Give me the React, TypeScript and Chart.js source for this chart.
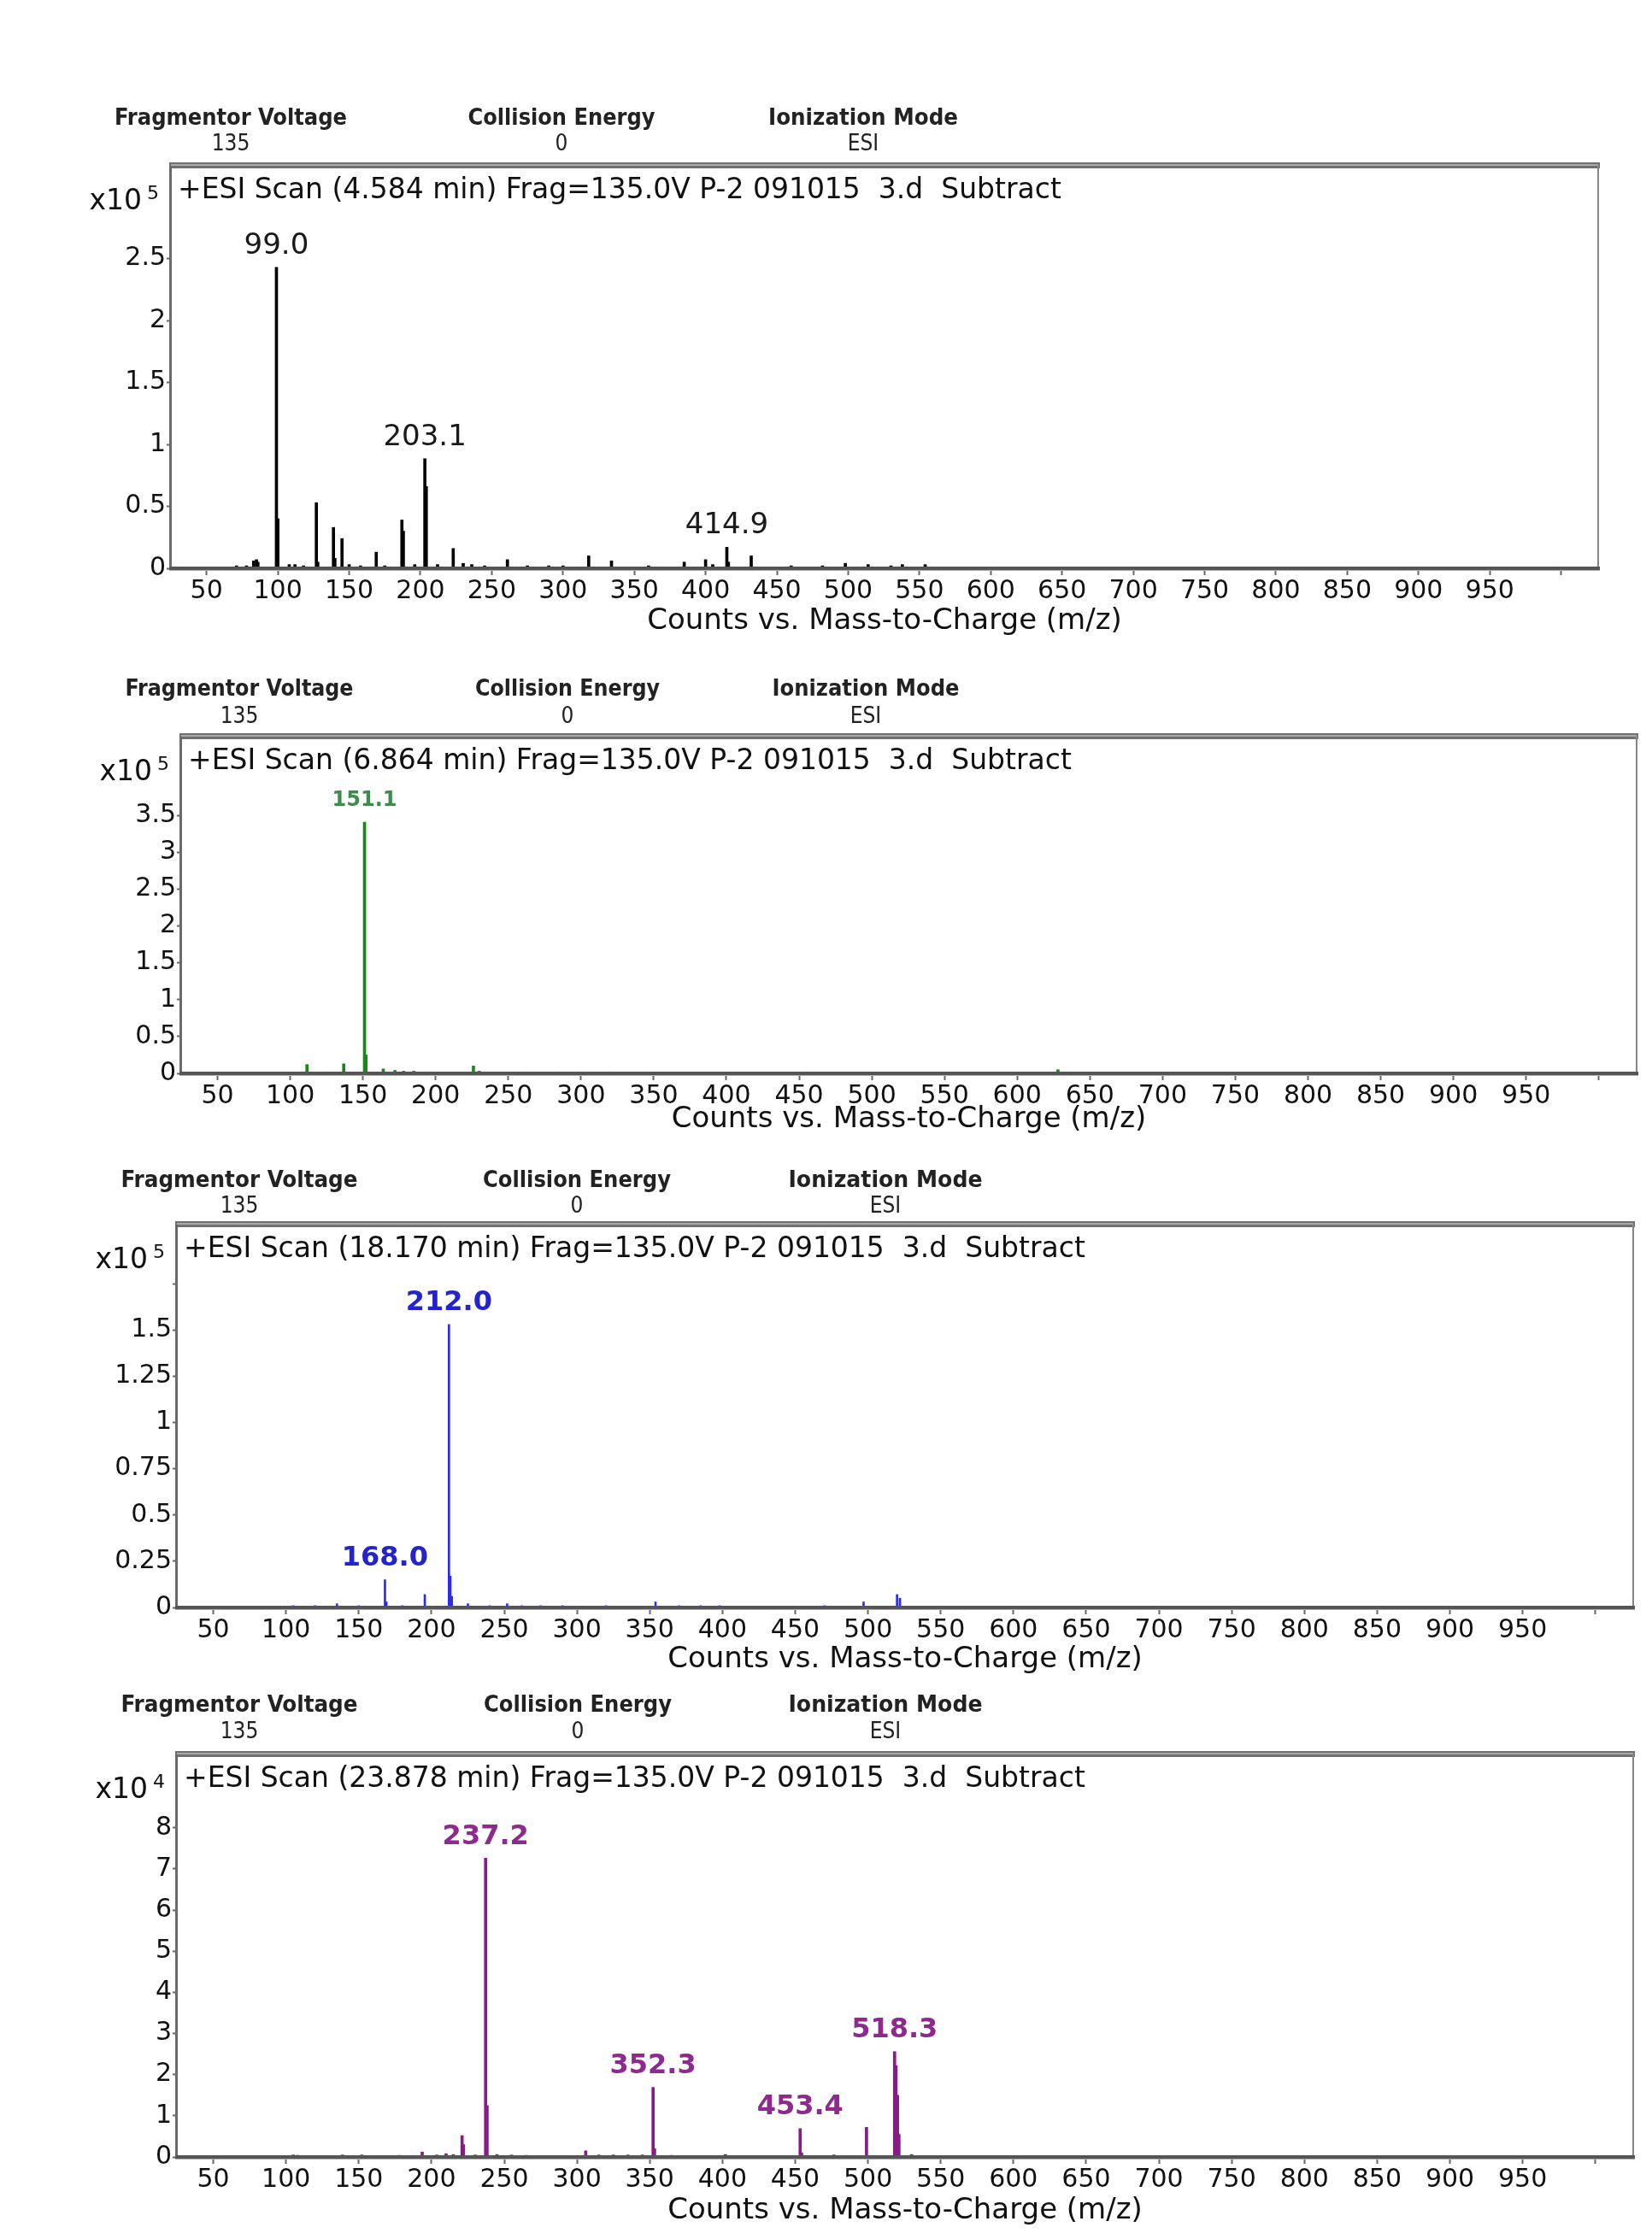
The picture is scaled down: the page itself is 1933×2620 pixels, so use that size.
import React, { useEffect, useRef } from 'react';
import { Chart, registerables } from 'chart.js';

Chart.register(...registerables);

// ---------- shared axis data ----------
const X_TICKS = [50, 100, 150, 200, 250, 300, 350, 400, 450, 500, 550, 600, 650, 700, 750, 800, 850, 900, 950, 1000];
const X_UNLABELED = [1000];
const X_MIN = 25;
const X_MAX = 1026;
const X_TITLE = 'Counts vs. Mass-to-Charge (m/z)';
const HEADER_NAMES = ['Fragmentor Voltage', 'Collision Energy', 'Ionization Mode'];
const HEADER_VALUES = ['135', '0', 'ESI'];

// ---------- scan 1 : 4.584 min (x10^5 counts) ----------
const scan1Title = '+ESI Scan (4.584 min) Frag=135.0V P-2 091015  3.d  Subtract';
const scan1Mz = [60, 71, 78, 83, 85, 86, 99.0, 100, 108, 112, 118, 127, 128, 139, 140, 145, 150, 158, 169, 175, 187, 188, 196, 203.1, 204.1, 212, 223, 230, 236, 245, 261, 275, 290, 300, 318, 334, 360, 385, 400, 405, 414.9, 416, 432, 460, 482, 498, 514, 530, 538, 554, 620, 650];
const scan1Counts = [0.01, 0.02, 0.02, 0.06, 0.07, 0.05, 2.43, 0.40, 0.03, 0.03, 0.02, 0.53, 0.05, 0.33, 0.08, 0.24, 0.03, 0.02, 0.13, 0.02, 0.39, 0.30, 0.03, 0.885, 0.66, 0.03, 0.16, 0.04, 0.03, 0.02, 0.07, 0.02, 0.02, 0.02, 0.10, 0.06, 0.02, 0.05, 0.07, 0.03, 0.17, 0.05, 0.10, 0.02, 0.02, 0.04, 0.03, 0.02, 0.03, 0.03, 0.01, 0.01];
const scan1Labeled = [99.0, 203.1, 414.9];
const scan1YTicks = [0, 0.5, 1, 1.5, 2, 2.5];
const scan1YHidden: number[] = [];
const scan1YMax = 3.25;
const scan1Exp = '5';

// ---------- scan 2 : 6.864 min (x10^5 counts) ----------
const scan2Title = '+ESI Scan (6.864 min) Frag=135.0V P-2 091015  3.d  Subtract';
const scan2Mz = [80, 111.5, 125, 136.8, 151.1, 152.1, 164, 172, 178, 185, 195, 226, 230, 262, 285, 300, 320, 345, 380, 455, 628, 740];
const scan2Counts = [0.01, 0.12, 0.02, 0.13, 3.41, 0.25, 0.06, 0.04, 0.03, 0.03, 0.02, 0.10, 0.03, 0.02, 0.02, 0.02, 0.02, 0.02, 0.01, 0.02, 0.05, 0.01];
const scan2Labeled = [151.1];
const scan2YTicks = [0, 0.5, 1, 1.5, 2, 2.5, 3, 3.5];
const scan2YHidden: number[] = [];
const scan2YMax = 4.57;
const scan2Exp = '5';

// ---------- scan 3 : 18.170 min (x10^5 counts) ----------
const scan3Title = '+ESI Scan (18.170 min) Frag=135.0V P-2 091015  3.d  Subtract';
const scan3Mz = [105, 120, 135, 150, 168.0, 169, 180, 195.4, 212.0, 213, 214, 225, 240, 252, 262, 275, 290, 320, 354, 370, 385, 398, 470, 497, 520, 522];
const scan3Counts = [0.01, 0.01, 0.02, 0.01, 0.15, 0.03, 0.01, 0.07, 1.53, 0.17, 0.06, 0.02, 0.01, 0.02, 0.01, 0.01, 0.01, 0.01, 0.03, 0.01, 0.01, 0.01, 0.01, 0.03, 0.07, 0.05];
const scan3Labeled = [168.0, 212.0];
const scan3YTicks = [0, 0.25, 0.5, 0.75, 1, 1.25, 1.5, 1.75];
const scan3YHidden = [1.75];
const scan3YMax = 2.07;
const scan3Exp = '5';

// ---------- scan 4 : 23.878 min (x10^4 counts) ----------
const scan4Title = '+ESI Scan (23.878 min) Frag=135.0V P-2 091015  3.d  Subtract';
const scan4Mz = [105, 108, 120, 138.8, 152, 165, 177.7, 193.6, 203.6, 210, 215, 221, 222, 230, 237.2, 238.2, 245, 255, 265, 275, 306, 315, 325, 335, 345, 352.3, 353.3, 365, 375, 402, 430, 453.4, 454.4, 476.6, 499, 518.3, 519.3, 520.3, 521.3, 530, 545, 561, 600, 640];
const scan4Counts = [0.05, 0.04, 0.03, 0.05, 0.05, 0.03, 0.04, 0.12, 0.05, 0.08, 0.06, 0.52, 0.30, 0.05, 7.26, 1.25, 0.06, 0.05, 0.04, 0.03, 0.15, 0.05, 0.05, 0.05, 0.05, 1.69, 0.20, 0.04, 0.03, 0.06, 0.02, 0.69, 0.10, 0.05, 0.72, 2.56, 2.22, 1.50, 0.55, 0.06, 0.03, 0.03, 0.02, 0.02];
const scan4Labeled = [237.2, 352.3, 453.4, 518.3];
const scan4YTicks = [0, 1, 2, 3, 4, 5, 6, 7, 8];
const scan4YHidden: number[] = [];
const scan4YMax = 9.78;
const scan4Exp = '4';

// ---------- panel layout / styles ----------
const PANELS = [
  {
    title: scan1Title, mz: scan1Mz, counts: scan1Counts, labeled: scan1Labeled, yTicks: scan1YTicks, yHidden: scan1YHidden, yMax: scan1YMax, exp: scan1Exp,
    barColor: '#000000', labelColor: '#1a1a1a', labelFont: 'normal 34px "DejaVu Sans"', barW: 3,
    canvasTop: 110, canvasBottom: 748, box: { l: 200, r: 1870, t: 194, b: 665 },
    headerY: 139, valueY: 169, headerX: [270, 657, 1010], headerW: [272, 219, 222],
  },
  {
    title: scan2Title, mz: scan2Mz, counts: scan2Counts, labeled: scan2Labeled, yTicks: scan2YTicks, yHidden: scan2YHidden, yMax: scan2YMax, exp: scan2Exp,
    barColor: '#158a15', labelColor: '#3c8c4c', labelFont: 'bold 24px "DejaVu Sans"', barW: 3,
    canvasTop: 780, canvasBottom: 1331, box: { l: 212, r: 1915, t: 862, b: 1256 },
    headerY: 807, valueY: 839, headerX: [280, 664, 1013], headerW: [267, 216, 219],
  },
  {
    title: scan3Title, mz: scan3Mz, counts: scan3Counts, labeled: scan3Labeled, yTicks: scan3YTicks, yHidden: scan3YHidden, yMax: scan3YMax, exp: scan3Exp,
    barColor: '#2c2ce8', labelColor: '#2424cc', labelFont: 'bold 32px "DejaVu Sans"', barW: 2,
    canvasTop: 1355, canvasBottom: 1963, box: { l: 207, r: 1911, t: 1433, b: 1881 },
    headerY: 1382, valueY: 1412, headerX: [280, 675, 1036], headerW: [277, 220, 227],
  },
  {
    title: scan4Title, mz: scan4Mz, counts: scan4Counts, labeled: scan4Labeled, yTicks: scan4YTicks, yHidden: scan4YHidden, yMax: scan4YMax, exp: scan4Exp,
    barColor: '#8a1a8a', labelColor: '#8e2a8e', labelFont: 'bold 32px "DejaVu Sans"', barW: 3,
    canvasTop: 1970, canvasBottom: 2608, box: { l: 207, r: 1911, t: 2053, b: 2524 },
    headerY: 1996, valueY: 2027, headerX: [280, 676, 1036], headerW: [277, 220, 227],
  },
];

const TEXT_FONT = '"DejaVu Sans", "Liberation Sans", sans-serif';
const HEADER_FONT = '"Liberation Sans Narrow", "DejaVu Sans Condensed", "Liberation Sans", sans-serif';

type PanelCfg = typeof PANELS[number];

function makeDecor(cfg: PanelCfg) {
  return {
    id: 'decor',
    afterDraw(chart: any) {
      const ctx: CanvasRenderingContext2D = chart.ctx;
      const { left, right, top, bottom } = chart.chartArea;
      const xS = chart.scales.x;
      const yS = chart.scales.y;
      const off = cfg.canvasTop;
      ctx.save();

      // frame
      ctx.fillStyle = '#707070';
      ctx.fillRect(left - 2, top - 4, right - left + 4, 7);
      ctx.fillStyle = '#a9a9a9';
      ctx.fillRect(left, top - 2, right - left, 2);
      ctx.fillStyle = '#6a6a6a';
      ctx.fillRect(left - 2, top, 3, bottom - top);
      ctx.fillStyle = '#858585';
      ctx.fillRect(right - 1, top, 2, bottom - top);
      ctx.fillStyle = '#555555';
      ctx.fillRect(left - 2, bottom - 2, right - left + 4, 4);
      ctx.fillStyle = '#b0b0b0';
      ctx.fillRect(left - 2, bottom + 2, right - left + 4, 1);

      // scan title
      ctx.fillStyle = '#111111';
      ctx.font = `33px ${TEXT_FONT}`;
      ctx.textAlign = 'left';
      ctx.textBaseline = 'middle';
      ctx.fillText(cfg.title, left + 8, top + 29);

      // exponent label
      ctx.textAlign = 'right';
      ctx.font = `33px ${TEXT_FONT}`;
      ctx.fillText('x10', left - 34, top + 42);
      ctx.font = `22px ${TEXT_FONT}`;
      ctx.fillText(cfg.exp, left - 14, top + 33);

      // peak labels
      ctx.textAlign = 'center';
      ctx.font = cfg.labelFont;
      ctx.fillStyle = cfg.labelColor;
      cfg.labeled.forEach((m) => {
        const idx = cfg.mz.indexOf(m);
        if (idx < 0) return;
        const px = xS.getPixelForValue(m);
        const py = yS.getPixelForValue(cfg.counts[idx]);
        ctx.fillText(m.toFixed(1), px, py - 25);
      });

      // header block
      ctx.fillStyle = '#222222';
      HEADER_NAMES.forEach((name, i) => {
        ctx.font = `bold 27px ${HEADER_FONT}`;
        const w = ctx.measureText(name).width;
        const s = cfg.headerW[i] / w;
        ctx.save();
        ctx.translate(cfg.headerX[i], cfg.headerY - off);
        ctx.scale(s, 1);
        ctx.textAlign = 'center';
        ctx.fillText(name, 0, 0);
        ctx.restore();
        ctx.font = `26px ${HEADER_FONT}`;
        ctx.textAlign = 'center';
        ctx.fillText(HEADER_VALUES[i], cfg.headerX[i], cfg.valueY - off);
      });
      ctx.restore();
    },
  };
}

function SpectrumPanel({ cfg }: { cfg: PanelCfg }) {
  const ref = useRef<HTMLCanvasElement>(null);
  const h = cfg.canvasBottom - cfg.canvasTop;
  useEffect(() => {
    const canvas = ref.current as HTMLCanvasElement;
    const chart = new Chart(canvas, {
      type: 'bar',
      data: {
        datasets: [
          {
            data: cfg.mz.map((m, i) => ({ x: m, y: cfg.counts[i] })),
            backgroundColor: cfg.barColor,
            borderWidth: 0,
            barThickness: cfg.barW,
          } as any,
        ],
      },
      options: {
        animation: false,
        responsive: false,
        devicePixelRatio: 1,
        layout: {
          padding: { left: 0, top: cfg.box.t - cfg.canvasTop, right: 1933 - cfg.box.r, bottom: 0 },
        },
        plugins: { legend: { display: false }, tooltip: { enabled: false } },
        scales: {
          x: {
            type: 'linear',
            min: X_MIN,
            max: X_MAX,
            offset: false,
            afterBuildTicks: (ax: any) => {
              ax.ticks = X_TICKS.map((v) => ({ value: v }));
            },
            afterFit: (ax: any) => {
              ax.height = cfg.canvasBottom - cfg.box.b;
            },
            grid: { drawOnChartArea: false, drawTicks: true, tickLength: 8, tickWidth: 2, tickColor: '#666666', offset: false },
            border: { display: false },
            ticks: {
              autoSkip: false,
              maxRotation: 0,
              minRotation: 0,
              padding: 1,
              color: '#111111',
              font: { family: TEXT_FONT, size: 30 },
              callback: (v: any) => (X_UNLABELED.includes(Number(v)) ? '' : String(v)),
            },
            title: {
              display: true,
              text: X_TITLE,
              color: '#111111',
              font: { family: TEXT_FONT, size: 34 },
              padding: { top: 0, bottom: 0 },
            },
          } as any,
          y: {
            type: 'linear',
            min: 0,
            max: cfg.yMax,
            afterBuildTicks: (ax: any) => {
              ax.ticks = cfg.yTicks.map((v) => ({ value: v }));
            },
            afterFit: (ax: any) => {
              ax.width = cfg.box.l;
            },
            grid: { drawOnChartArea: false, drawTicks: true, tickLength: 5, tickWidth: 2, tickColor: '#666666' },
            border: { display: false },
            ticks: {
              padding: 1,
              color: '#111111',
              font: { family: TEXT_FONT, size: 30 },
              callback: (v: any) => (cfg.yHidden.includes(Number(v)) ? '' : String(v)),
            },
          } as any,
        },
      },
      plugins: [makeDecor(cfg)],
    });
    return () => chart.destroy();
  }, []);
  return (
    <canvas
      ref={ref}
      width={1933}
      height={h}
      style={{ position: 'absolute', left: 0, top: cfg.canvasTop, width: 1933, height: h }}
    />
  );
}

export default function App() {
  return (
    <div style={{ position: 'absolute', left: 0, top: 0, width: 1933, height: 2620, background: '#ffffff' }}>
      {PANELS.map((p, i) => (
        <SpectrumPanel key={i} cfg={p} />
      ))}
    </div>
  );
}
